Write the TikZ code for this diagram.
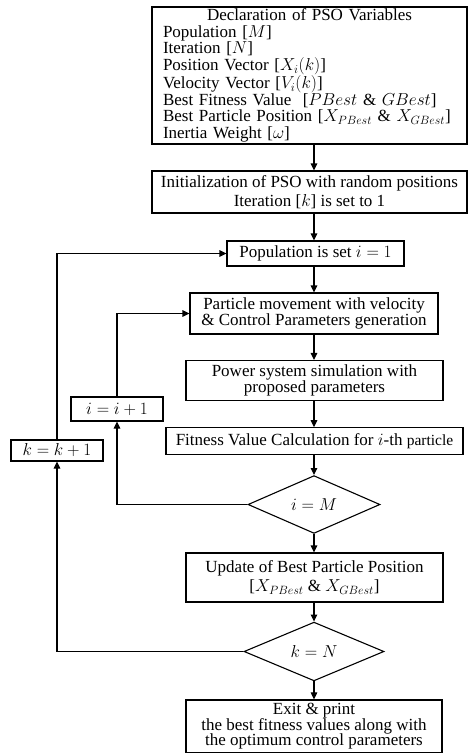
\documentclass[tikz,border=0pt]{standalone}
\usepackage{fontspec}
\setmainfont{Liberation Serif}
\usetikzlibrary{shapes.geometric,arrows.meta,calc}
\begin{document}
\begin{tikzpicture}[x=1pt,y=-1pt,
  box/.style={draw, line width=1.1pt, align=center, inner sep=0pt,
    font=\fontsize{17}{16.6}\selectfont},
  dia/.style={draw, diamond, line width=1.1pt, inner sep=0pt,
    font=\fontsize{17}{16.6}\selectfont},
  arr/.style={line width=1.1pt, -{Triangle[length=7pt,width=6.5pt]}}]
\useasboundingbox (0,0) rectangle (468,753);
\coordinate (sp) at (314,0);

\node[box, minimum width=315, minimum height=137, text width=293pt, inner xsep=11pt, align=left] (decl) at (309.5,75.5)
 {\makebox[293pt][c]{Declaration of PSO Variables}\\
  Population [$M$]\\
  Iteration [$N$]\\
  Position Vector [$X_i(k)$]\\
  Velocity Vector [$V_i(k)$]\\
  Best Fitness Value~ [$PBest$ \& $GBest$]\\
  Best Particle Position [$X_{PBest}$ \& $X_{GBest}$]\\
  Inertia Weight [$\omega$]};

\node[box, minimum width=315, minimum height=42, font=\fontsize{17}{18.5}\selectfont] (init) at (309.5,192)
 {Initialization of PSO with random positions\\ Iteration [$k$] is set to 1};

\node[box, minimum width=177, minimum height=25] (pop) at (315.5,253.5) {Population is set $i=1$};

\node[box, minimum width=248, minimum height=41] (pm) at (314,313.5)
 {Particle movement with velocity\\ \& Control Parameters generation};

\node[box, minimum width=257, minimum height=40] (sim) at (314.5,380.5)
 {Power system simulation with\\ proposed parameters};

\node[box, minimum width=297, minimum height=26.5] (fit) at (314.5,441)
 {Fitness Value Calculation for $i$-th {\fontsize{15.5}{15}\selectfont particle}};

\node[dia, minimum width=132, minimum height=43] (d1) at (314,504.5) {$i=M$};

\node[box, minimum width=257, minimum height=49, font=\fontsize{17}{18.5}\selectfont] (upd) at (314.5,577.5)
 {Update of Best Particle Position\\ {[}$X_{PBest}$ \& $X_{GBest}${]}};

\node[dia, minimum width=140, minimum height=43] (d2) at (314,651.5) {$k=N$};

\node[box, minimum width=256, minimum height=52.5, font=\fontsize{17}{15.8}\selectfont] (exit) at (314,726.2)
 {Exit \& print\\ the best fitness values along with\\ the optimum control parameters};

\node[box, minimum width=92, minimum height=24] (inci) at (117,409) {$i=i+1$};
\node[box, minimum width=92, minimum height=21] (inck) at (57,450.5) {$k=k+1$};

\draw[arr] (decl.south -| sp) -- (init.north -| sp);
\draw[arr] (init.south -| sp) -- (pop.north -| sp);
\draw[arr] (pop.south -| sp) -- (pm.north -| sp);
\draw[arr] (pm.south -| sp) -- (sim.north -| sp);
\draw[arr] (sim.south -| sp) -- (fit.north -| sp);
\draw[arr] (fit.south -| sp) -- (d1.north);
\draw[arr] (d1.south) -- (upd.north -| sp);
\draw[arr] (upd.south -| sp) -- (d2.north);
\draw[arr] (d2.south) -- (exit.north -| sp);
\draw[arr] (d1.west) -| (inci.south);
\draw[arr] (inci.north) |- (pm.west);
\draw[arr] (d2.west) -| (inck.south);
\draw[arr] (inck.north) |- (pop.west);
\end{tikzpicture}
\end{document}
